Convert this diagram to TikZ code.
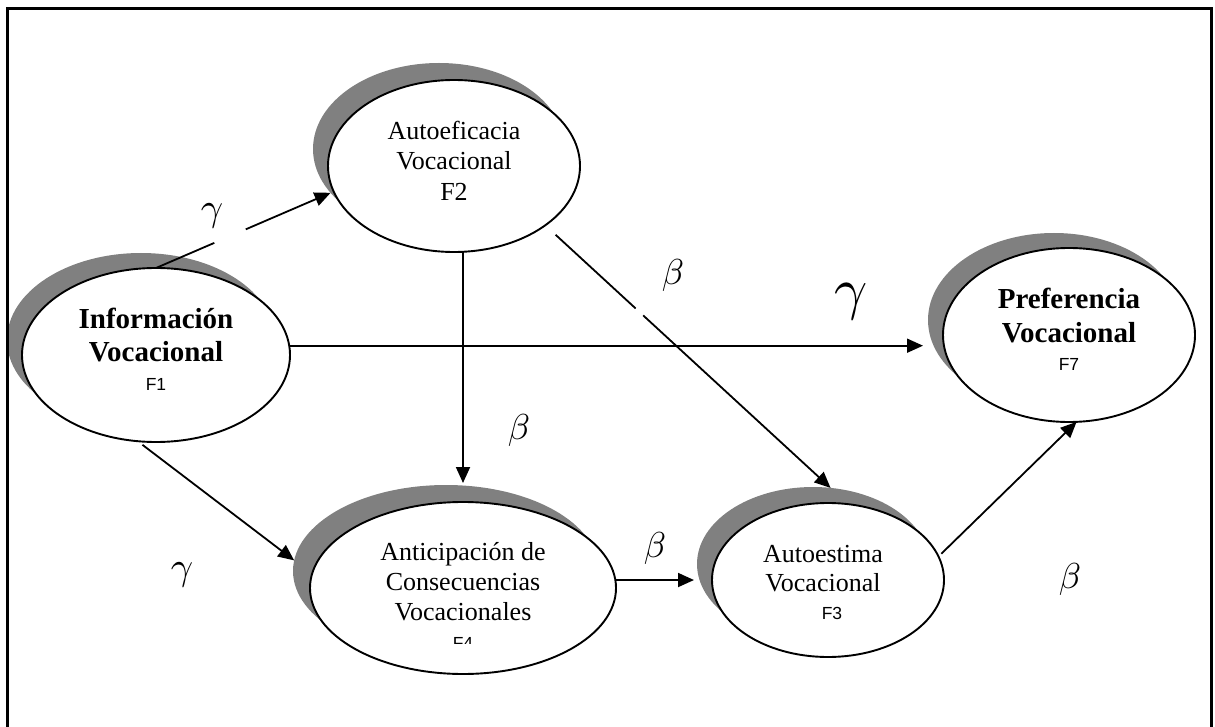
\documentclass[tikz,border=0pt]{standalone}
\usepackage{fontspec}
\setmainfont{Liberation Serif}
\setsansfont{Liberation Sans}
\usetikzlibrary{arrows.meta,shapes.geometric}
\definecolor{shadowgray}{RGB}{128,128,128}
% Greek path coefficients, enlarged from the 10pt math italic
\newcommand{\coefsym}[2]{\scalebox{#1}{$#2$}}
\begin{document}
\begin{tikzpicture}[x=1pt,y=-1pt,
  factor/.style 2 args={ellipse, minimum width=#1, minimum height=#2,
    inner sep=0pt, outer sep=0pt},
  shadowell/.style={fill=shadowgray, draw=none},
  faceell/.style={fill=white, draw=black, line width=1.9pt},
  title/.style={align=center, inner sep=0pt, font=\fontsize{26}{30.5}\selectfont},
  boldtitle/.style={align=center, inner sep=0pt, font=\bfseries\fontsize{29}{33}\selectfont},
  conn/.style={line width=1.8pt, -{Triangle[length=16pt,width=14pt]}},
  gapmask/.style={fill=white, inner sep=0pt, minimum height=6pt, sloped},
  coef/.style={inner sep=0pt, font=\fontsize{10}{12}\selectfont},
  frame/.style={line width=3pt, line cap=rect}
]
\useasboundingbox (0,0) rectangle (1215,727);

% drop shadows of the latent factors
\node[factor={268pt}{174pt}, shadowell] (F1s) at (141,340) {};
\node[factor={252pt}{172pt}, shadowell] (F2s) at (439,149) {};
\node[factor={306pt}{172pt}, shadowell] (F4s) at (446,571) {};
\node[factor={232pt}{154pt}, shadowell] (F3s) at (813,564) {};
\node[factor={252pt}{174pt}, shadowell] (F7s) at (1054,320) {};

% latent factors
\node[factor={268pt}{174pt}, faceell] (F1) at (156,355) {};
\node[factor={252pt}{172pt}, faceell] (F2) at (454,166) {};
\node[factor={306pt}{172pt}, faceell] (F4) at (463,588) {};
\node[factor={232pt}{154pt}, faceell] (F3) at (828,580) {};
\node[factor={252pt}{174pt}, faceell] (F7) at (1069,335) {};

% factor names
\node[boldtitle] (t1) at ([yshift=5.6pt]F1.center)
  {Información\\Vocacional\\[-4pt]{\normalfont\sffamily\fontsize{17.5}{19}\selectfont F1}};
\node[title] (t2) at ([yshift=5.4pt]F2.center)
  {Autoeficacia\\Vocacional\\F2};
\coordinate (cutF4) at (0,643);
\begin{scope}
  \clip (F4.west |- F4s.north) rectangle (F4.east |- cutF4);
  \node[title, font=\fontsize{26}{30}\selectfont] (t4) at ([yshift=-7.5pt]F4.center)
    {Anticipación de\\Consecuencias\\Vocacionales\\[-1pt]{\sffamily\fontsize{17.5}{19}\selectfont F4}};
\end{scope}
\node[title, font=\fontsize{26}{29}\selectfont] (t3) at ([xshift=-5pt,yshift=-2pt]F3.center)
  {Autoestima\\Vocacional\\[-1pt]\hspace*{18pt}{\sffamily\fontsize{17.5}{19}\selectfont F3}};
\node[boldtitle, font=\bfseries\fontsize{29}{34}\selectfont] (t7) at ([yshift=6pt]F7.center)
  {Preferencia\\Vocacional\\[-6pt]{\normalfont\sffamily\fontsize{17.5}{19}\selectfont F7}};

% structural paths
\draw[conn] (F1.north) -- node[gapmask, pos=0.424, minimum width=34pt] {} (F2s.202);
\draw[conn, shorten <=14pt] (F2.-33) -- node[gapmask, pos=0.33, minimum width=10pt] {} (F3s.77);
\draw[conn, shorten >=5pt] (F1.4) -- (F1.4 -| F7s.west);
\draw[conn, shorten >=2pt] (F2.south -| F4.north) -- (F4.north |- F4s.north);
\draw[conn, shorten <=6pt] (F1.-102) -- (F4s.176);
\draw[conn, shorten >=3pt] (F4.3) -- (F4.3 -| F3s.west);
\draw[conn, shorten <=4pt] (F3.12) -- (F7.-85);

% path coefficients
\node[coef] (g1) at (212,216) {\coefsym{3.9}{\gamma}};
\node[coef] (g2) at (851,302) {\coefsym{5.8}{\gamma}};
\node[coef] (g3) at (182,575) {\coefsym{3.9}{\gamma}};
\node[coef] (b1) at (673,276) {\coefsym{3.6}{\beta}};
\node[coef] (b2) at (519,430) {\coefsym{3.6}{\beta}};
\node[coef] (b3) at (655,548) {\coefsym{3.6}{\beta}};
\node[coef] (b4) at (1070,579) {\coefsym{3.6}{\beta}};

% outer frame
\draw[frame] (7,727) -- (7,9) -- (1211,9) -- (1211,727);
\end{tikzpicture}
\end{document}
